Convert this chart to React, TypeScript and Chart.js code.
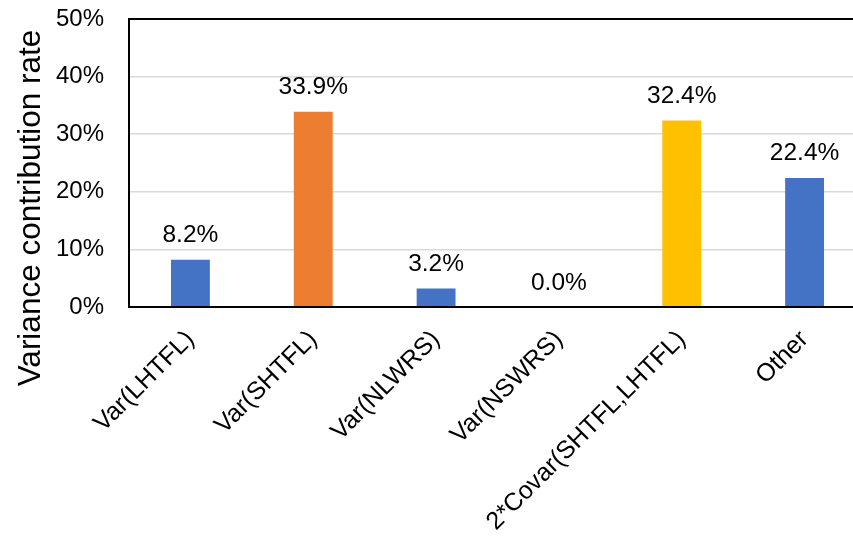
import React, { useEffect, useRef } from "react";
import { Chart, registerables } from "chart.js";

Chart.register(...registerables);

const categories = [
  "Var(LHTFL)",
  "Var(SHTFL)",
  "Var(NLWRS)",
  "Var(NSWRS)",
  "2*Covar(SHTFL,LHTFL)",
  "Other",
];
const values = [8.2, 33.9, 3.2, 0.0, 32.4, 22.4];
const barColors = ["#4472C4", "#ED7D31", "#4472C4", "#4472C4", "#FFC000", "#4472C4"];
const yTicks = [0, 10, 20, 30, 40, 50];
const yTitle = "Variance contribution rate";

const FONT = "'Liberation Sans', Arial, sans-serif";

const framePlugin = {
  id: "frame",
  afterDatasetsDraw(chart: any) {
    const { ctx, chartArea } = chart;
    ctx.save();
    ctx.strokeStyle = "#000";
    ctx.lineWidth = 2;
    ctx.strokeRect(chartArea.left, chartArea.top, chartArea.right - chartArea.left, chartArea.bottom - chartArea.top);
    ctx.restore();
  },
};

const labelPlugin = {
  id: "valueLabels",
  afterDatasetsDraw(chart: any) {
    const { ctx } = chart;
    const meta = chart.getDatasetMeta(0);
    ctx.save();
    ctx.font = `24.5px ${FONT}`;
    ctx.fillStyle = "#000";
    ctx.textAlign = "center";
    ctx.textBaseline = "alphabetic";
    meta.data.forEach((bar: any, i: number) => {
      ctx.fillText(values[i].toFixed(1) + "%", bar.x, bar.y - 17.5);
    });
    ctx.restore();
  },
};

const titlePlugin = {
  id: "yTitle",
  afterDraw(chart: any) {
    const { ctx } = chart;
    ctx.save();
    ctx.font = `31.5px ${FONT}`;
    ctx.fillStyle = "#000";
    ctx.textAlign = "center";
    ctx.textBaseline = "middle";
    ctx.translate(31, 208);
    ctx.rotate(-Math.PI / 2);
    ctx.fillText(yTitle, 0, 0);
    ctx.restore();
  },
};

export default function App() {
  const ref = useRef<HTMLCanvasElement>(null);
  useEffect(() => {
    if (!ref.current) return;
    const chart = new Chart(ref.current, {
      type: "bar",
      data: {
        labels: categories,
        datasets: [
          {
            data: values,
            backgroundColor: barColors,
            borderWidth: 0,
            barPercentage: 0.3165,
            categoryPercentage: 1,
          },
        ],
      },
      options: {
        animation: false,
        responsive: false,
        maintainAspectRatio: false,
        layout: { padding: { top: 19, left: 0, right: 0, bottom: 0 } },
        plugins: { legend: { display: false }, tooltip: { enabled: false } },
        scales: {
          x: {
            grid: { display: false, drawTicks: false },
            border: { display: false },
            ticks: {
              color: "#000",
              font: { family: FONT, size: 25 },
              minRotation: 45,
              maxRotation: 45,
              autoSkip: false,
              padding: 18,
            },
            afterFit(scale: any) {
              scale.height = 236;
              scale.paddingLeft = 0;
              scale.paddingRight = 0;
              scale.paddingTop = 0;
              scale.paddingBottom = 0;
            },
          },
          y: {
            min: 0,
            max: 50,
            afterBuildTicks(scale: any) {
              scale.ticks = yTicks.map((v) => ({ value: v }));
            },
            grid: { color: "#d9d9d9", lineWidth: 1.5, drawTicks: false },
            border: { display: false },
            ticks: {
              color: "#000",
              font: { family: FONT, size: 24 },
              padding: 25,
              callback: (v: any) => v + "%",
            },
            title: { display: false },
            afterFit(scale: any) {
              scale.width = 129;
              scale.paddingTop = 0;
              scale.paddingBottom = 0;
              scale.paddingLeft = 0;
              scale.paddingRight = 0;
            },
          },
        },
      },
      plugins: [framePlugin, labelPlugin, titlePlugin],
    });
    return () => chart.destroy();
  }, []);
  return (
    <div style={{ position: "fixed", left: 0, top: 0, width: 866, height: 543, background: "#fff" }}>
      <canvas ref={ref} width={866} height={543} style={{ width: 866, height: 543, display: "block" }} />
    </div>
  );
}
